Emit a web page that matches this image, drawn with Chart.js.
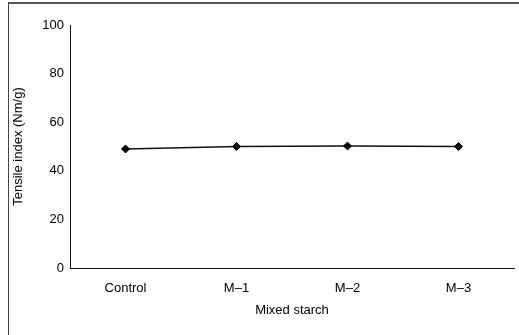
<!DOCTYPE html>
<html>
<head>
<meta charset="utf-8">
<script src="https://cdn.jsdelivr.net/npm/chart.js@4"></script>
<style>
  html, body { margin: 0; padding: 0; background: #fff; }
  #wrap { position: relative; width: 519px; height: 335px; }
  #frame { position: absolute; left: 8px; top: 2px; right: 0; bottom: 0;
           border-top: 2px solid #555; border-left: 1px solid #444; pointer-events: none; }
  canvas { position: absolute; left: 0; top: 0; }
</style>
</head>
<body>
<div id="wrap">
  <canvas id="c" width="519" height="335"></canvas>
  <div id="frame"></div>
</div>
<script>
const categories = ["Control", "M\u20131", "M\u20132", "M\u20133"];
const tensileIndex = [49, 50, 50.2, 50];
const yTicks = [0, 20, 40, 60, 80, 100];
const xTitle = "Mixed starch";
const yTitle = "Tensile index (Nm/g)";

const font = { family: "'Liberation Sans', Arial, sans-serif", size: 13 };

new Chart(document.getElementById('c'), {
  type: 'line',
  data: {
    labels: categories,
    datasets: [{
      data: tensileIndex,
      borderColor: '#111',
      borderWidth: 1.5,
      backgroundColor: '#000',
      pointStyle: 'rectRot',
      pointRadius: 4,
      pointBorderWidth: 1,
      pointBorderColor: '#000',
      pointBackgroundColor: '#000',
      tension: 0,
      fill: false
    }]
  },
  options: {
    responsive: false,
    animation: false,
    devicePixelRatio: 1,
    layout: { padding: { left: 8, right: 1, top: 25, bottom: 0 } },
    plugins: { legend: { display: false }, tooltip: { enabled: false } },
    scales: {
      x: {
        type: 'category',
        offset: true,
        grid: { display: false, drawTicks: false },
        border: { display: true, color: '#111', width: 1 },
        ticks: { color: '#000', font: font, padding: 13, maxRotation: 0 },
        title: { display: true, text: xTitle, color: '#000', font: font, padding: { top: 0, bottom: 17 } },
        afterFit: (s) => { s.height = 67; }
      },
      y: {
        min: 0, max: 100,
        afterBuildTicks: (s) => { s.ticks = yTicks.map(v => ({ value: v })); },
        grid: { display: false, drawTicks: false },
        border: { display: true, color: '#111', width: 1 },
        ticks: { color: '#000', font: font, padding: 6 },
        title: { display: true, text: yTitle, color: '#000', font: font, padding: { top: 3, bottom: 0 } },
        afterFit: (s) => { s.width = 62; }
      }
    }
  }
});
</script>
</body>
</html>
